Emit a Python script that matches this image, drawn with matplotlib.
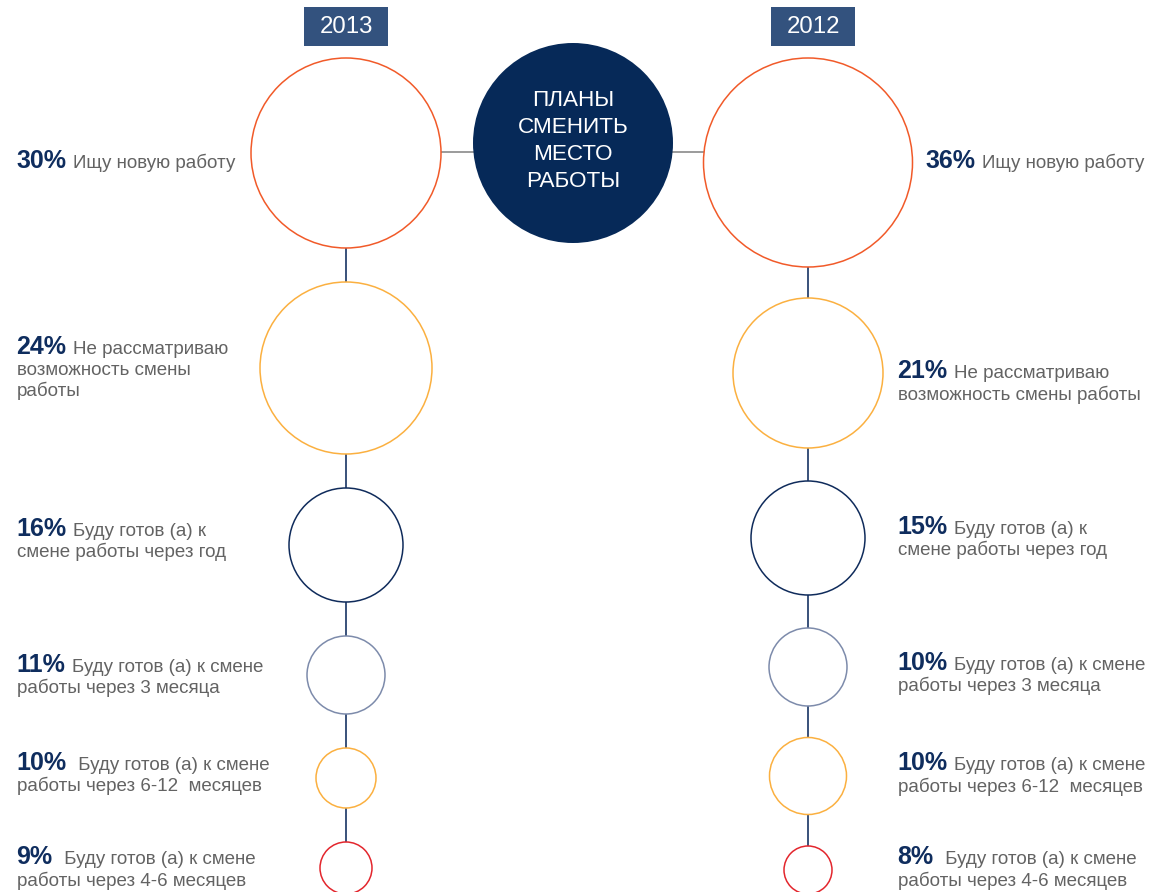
import matplotlib
matplotlib.use("Agg")
import matplotlib.pyplot as plt
import matplotlib.transforms as mtransforms
from matplotlib.patches import Circle, Rectangle

# данные
years = ["2013", "2012"]
pct_2013 = [30, 24, 16, 11, 10, 9]
pct_2012 = [36, 21, 15, 10, 10, 8]
text_2013 = ["Ищу новую работу",
             "Не рассматриваю\nвозможность смены\nработы",
             "Буду готов (а) к\nсмене работы через год",
             "Буду готов (а) к смене\nработы через 3 месяца",
             " Буду готов (а) к смене\nработы через 6-12  месяцев",
             " Буду готов (а) к смене\nработы через 4-6 месяцев"]
text_2012 = ["Ищу новую работу",
             "Не рассматриваю\nвозможность смены работы",
             "Буду готов (а) к\nсмене работы через год",
             "Буду готов (а) к смене\nработы через 3 месяца",
             "Буду готов (а) к смене\nработы через 6-12  месяцев",
             " Буду готов (а) к смене\nработы через 4-6 месяцев"]
center_title = "ПЛАНЫ\nСМЕНИТЬ\nМЕСТО\nРАБОТЫ"

# оформление
ring_colors = ["#f15a29", "#fbb040", "#0f2b5b", "#7d8bab", "#fbb040", "#e3262d"]
navy = "#062958"
pct_color = "#0f2d5e"
txt_color = "#636363"
box_color = "#33527e"

# раскладка (пиксели)
col_x = [346, 808]
box_x = [346, 813]
circ_y = [[153, 368, 545, 675, 778, 868], [162.5, 373, 538, 667, 776, 870]]
circ_r = [[95, 86, 57, 39, 30, 26], [104.5, 75, 57, 39, 38.5, 24]]
text_x = [[16] * 6, [925, 897, 897, 897, 897, 897]]
text_y = [[168.5, 353.5, 535.5, 671.5, 769.5, 864.5], [168.5, 378.5, 533.5, 669.5, 770.5, 864.5]]
line_h = 21.5

plt.rcParams['font.family'] = ['Liberation Sans', 'DejaVu Sans']

fig = plt.figure(figsize=(11.49, 8.92), dpi=100)
ax = fig.add_axes([0, 0, 1, 1])
ax.set_xlim(0, 1149)
ax.set_ylim(892, 0)
ax.axis('off')

# горизонтальная связь
ax.plot([col_x[0], col_x[1]], [152, 152], color="#8a8a8a", lw=1.2, zorder=1)

# центральный круг
ax.add_patch(Circle((573, 143), 100, facecolor=navy, edgecolor='none', zorder=3))
ax.text(573, 141, center_title, color='white', fontsize=16.2, ha='center', va='center',
        linespacing=1.38, zorder=4)

renderer = fig.canvas.get_renderer()
px_y = mtransforms.blended_transform_factory(mtransforms.IdentityTransform(), ax.transData)
all_pct = [pct_2013, pct_2012]
all_txt = [text_2013, text_2012]
for k in range(2):
    cx = col_x[k]
    # год
    ax.add_patch(Rectangle((box_x[k] - 42, 7), 84, 39, facecolor=box_color, edgecolor='none', zorder=2))
    ax.text(box_x[k], 27, years[k], color='white', fontsize=17.3, ha='center',
            va='center', zorder=3)
    ax.plot([cx, cx], [circ_y[k][0], circ_y[k][-1]], color="#2a4370", lw=1.3, zorder=1)
    for i in range(len(all_pct[k])):
        ax.add_patch(Circle((cx, circ_y[k][i]), circ_r[k][i], facecolor='white',
                            edgecolor=ring_colors[i], lw=1.1, zorder=2))
        p = ax.text(text_x[k][i], text_y[k][i], "%d%%" % all_pct[k][i], color=pct_color,
                    fontsize=18, fontweight='bold', ha='left', va='baseline')
        x_end = p.get_window_extent(renderer).x1
        lines = all_txt[k][i].split("\n")
        for j, ln in enumerate(lines):
            y = text_y[k][i] + j * line_h
            if j == 0:
                ax.text(x_end + 7, y, ln, color=txt_color, fontsize=13.5, ha='left',
                        va='baseline', transform=px_y)
            else:
                ax.text(text_x[k][i] + 1, y, ln, color=txt_color, fontsize=13.5, ha='left', va='baseline')

fig.savefig("out.png", dpi=100)
